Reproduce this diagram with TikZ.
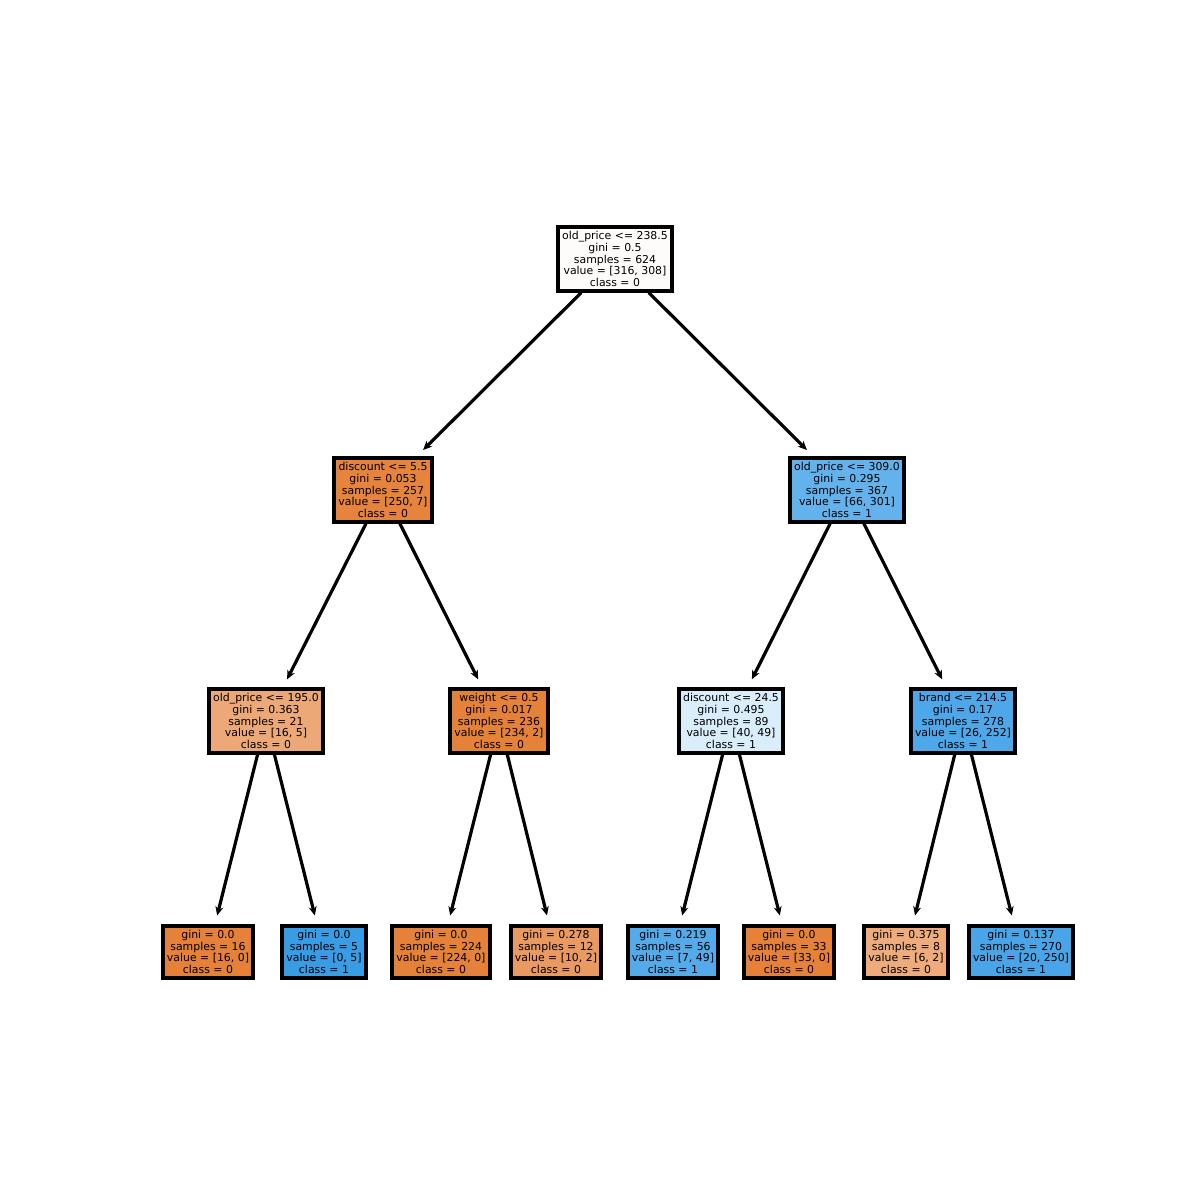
\documentclass[tikz,border=0pt]{standalone}
\usepackage{fontspec}
\setmainfont{DejaVu Sans}
\usepackage{tikz}
\usetikzlibrary{arrows.meta,positioning}
\usetikzlibrary{calc}
\usepackage{xcolor}

\definecolor{cRoot}{HTML}{FEFCFA}
\definecolor{cOa}{HTML}{E6843E}
\definecolor{cBa}{HTML}{64B2EB}
\definecolor{cOb}{HTML}{EDA877}
\definecolor{cOc}{HTML}{E5823A}
\definecolor{cBb}{HTML}{DAEDFA}
\definecolor{cBc}{HTML}{4DA7E8}
\definecolor{cO}{HTML}{E58139}
\definecolor{cB}{HTML}{399DE5}
\definecolor{cOd}{HTML}{EA9A61}
\definecolor{cBd}{HTML}{55ABE9}
\definecolor{cOe}{HTML}{EEAB7B}
\definecolor{cBe}{HTML}{49A5E7}

\begin{document}
\begin{tikzpicture}[
  x=1pt, y=-1pt,
  treenode/.style={draw, line width=4pt, align=center, inner sep=4pt,
    font=\fontsize{10.9}{11.7}\selectfont},
  edge/.style={line width=3.2pt, -{Stealth[length=9pt,width=8pt]}, shorten >=9pt}
]
\useasboundingbox (0,0) rectangle (1200,1200);

% ==================
% Root
% ==================
\node[treenode, fill=cRoot] (r0) at (615,259)
  {old\_price <= 238.5\\gini = 0.5\\samples = 624\\value = [316, 308]\\class = 0};

% ==================
% Depth 1
% ==================
\node[treenode, fill=cOa] (l1) at (383,490)
  {discount <= 5.5\\gini = 0.053\\samples = 257\\value = [250, 7]\\class = 0};
\node[treenode, fill=cBa] (r1) at (847,490)
  {old\_price <= 309.0\\gini = 0.295\\samples = 367\\value = [66, 301]\\class = 1};

\draw[edge] (r0) -- (l1);
\draw[edge] (r0) -- (r1);

% ==================
% Depth 2
% ==================
\node[treenode, fill=cOb] (l2l) at (266,721)
  {old\_price <= 195.0\\gini = 0.363\\samples = 21\\value = [16, 5]\\class = 0};
\node[treenode, fill=cOc] (l2r) at (499,721)
  {weight <= 0.5\\gini = 0.017\\samples = 236\\value = [234, 2]\\class = 0};
\node[treenode, fill=cBb] (r2l) at (731,721)
  {discount <= 24.5\\gini = 0.495\\samples = 89\\value = [40, 49]\\class = 1};
\node[treenode, fill=cBc] (r2r) at (963,721)
  {brand <= 214.5\\gini = 0.17\\samples = 278\\value = [26, 252]\\class = 1};

\draw[edge] (l1) -- (l2l);
\draw[edge] (l1) -- (l2r);
\draw[edge] (r1) -- (r2l);
\draw[edge] (r1) -- (r2r);

% ==================
% Leaves
% ==================
\node[treenode, fill=cO] (l3ll) at (208,952)
  {gini = 0.0\\samples = 16\\value = [16, 0]\\class = 0};
\node[treenode, fill=cB] (l3lr) at (324,952)
  {gini = 0.0\\samples = 5\\value = [0, 5]\\class = 1};
\node[treenode, fill=cO] (l3rl) at (441,952)
  {gini = 0.0\\samples = 224\\value = [224, 0]\\class = 0};
\node[treenode, fill=cOd] (l3rr) at (556,952)
  {gini = 0.278\\samples = 12\\value = [10, 2]\\class = 0};
\node[treenode, fill=cBd] (r3ll) at (673,952)
  {gini = 0.219\\samples = 56\\value = [7, 49]\\class = 1};
\node[treenode, fill=cO] (r3lr) at (789,952)
  {gini = 0.0\\samples = 33\\value = [33, 0]\\class = 0};
\node[treenode, fill=cOe] (r3rl) at (906,952)
  {gini = 0.375\\samples = 8\\value = [6, 2]\\class = 0};
\node[treenode, fill=cBe] (r3rr) at (1021,952)
  {gini = 0.137\\samples = 270\\value = [20, 250]\\class = 1};

\draw[edge] (l2l) -- (l3ll);
\draw[edge] (l2l) -- (l3lr);
\draw[edge] (l2r) -- (l3rl);
\draw[edge] (l2r) -- (l3rr);
\draw[edge] (r2l) -- (r3ll);
\draw[edge] (r2l) -- (r3lr);
\draw[edge] (r2r) -- (r3rl);
\draw[edge] (r2r) -- (r3rr);
\end{tikzpicture}
\end{document}
